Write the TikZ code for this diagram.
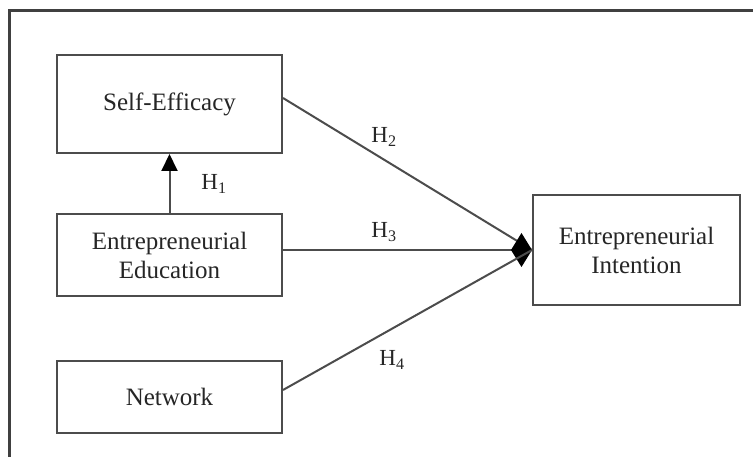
\documentclass[tikz,border=0pt]{standalone}
\usepackage{fontspec}
\setmainfont{Liberation Serif}
\usetikzlibrary{arrows.meta}
\begin{document}
\begin{tikzpicture}[x=1pt,y=-1pt,
  varbox/.style={draw=black!70,line width=2pt,align=center,text=black!85,
    font=\fontsize{25}{29}\selectfont,inner sep=0pt},
  hyplabel/.style={text=black!85,font=\fontsize{23}{26}\selectfont,inner sep=0pt},
  path/.style={draw=black!70,line width=2pt}]
\clip (0,0) rectangle (753,457);
\fill[white] (0,0) rectangle (753,457);
\draw[black!75,line width=3pt] (9,470) -- (9,11) -- (770,11);
\node[varbox,minimum width=225,minimum height=98] (se) at (169.5,104) {Self-Efficacy};
\node[varbox,minimum width=225,minimum height=82] (edu) at (169.5,255) {Entrepreneurial\\Education};
\node[varbox,minimum width=225,minimum height=72] (net) at (169.5,397) {Network};
\node[varbox,minimum width=207,minimum height=110] (intent) at (636.5,250) {Entrepreneurial\\Intention};
% paths
\draw[path,-{Triangle[length=17pt,width=16pt,color=black]}] (edu.north) -- (se.south);
\draw[path] ([yshift=6]se.east) -- (intent.west);
\draw[path,-{Diamond[length=21pt,width=34pt,color=black]}] (edu.east |- intent.west) -- (intent.west);
\draw[path] ([yshift=7]net.east) -- (intent.west);
\node[hyplabel] (h1) at (214,184) {H\textsubscript{1}};
\node[hyplabel] (h2) at (384,137) {H\textsubscript{2}};
\node[hyplabel] (h3) at (384,232) {H\textsubscript{3}};
\node[hyplabel] (h4) at (392,360) {H\textsubscript{4}};
\end{tikzpicture}
\end{document}
